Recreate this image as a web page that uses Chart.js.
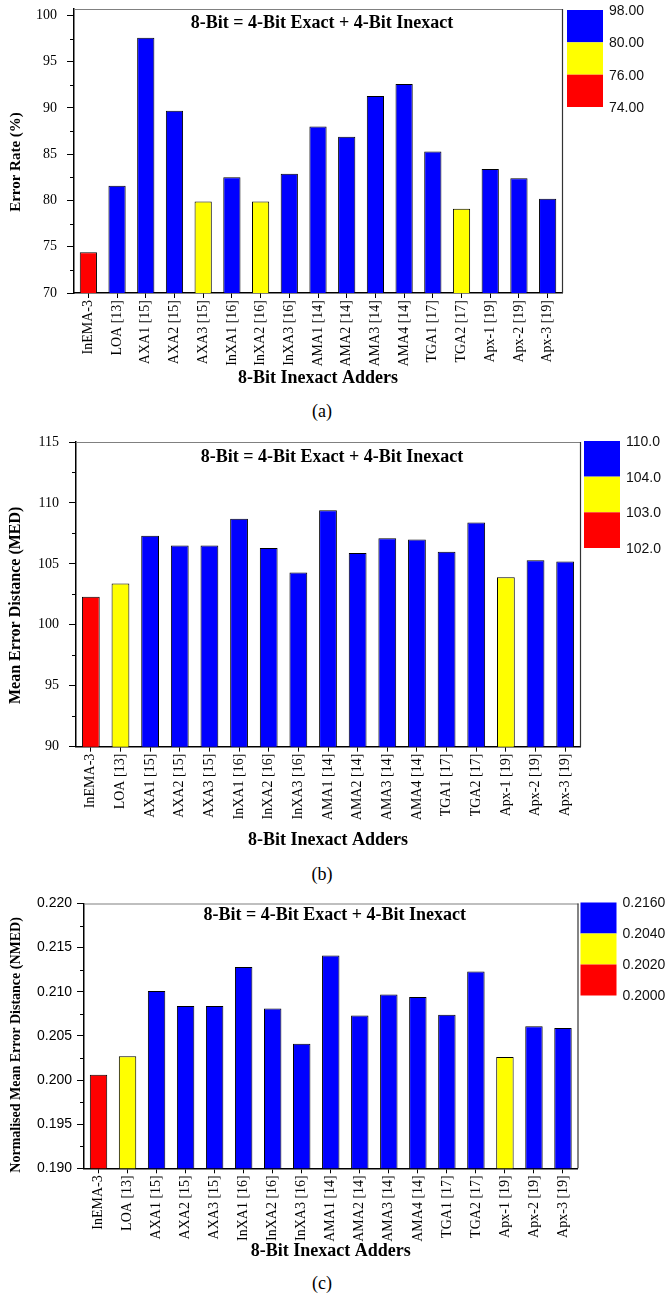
<!DOCTYPE html>
<html><head><meta charset="utf-8">
<script src="https://cdn.jsdelivr.net/npm/chart.js@4.4.1/dist/chart.umd.min.js"></script>
<style>
html,body{margin:0;padding:0;background:#fff;}
body{width:665px;height:1294px;position:relative;overflow:hidden;}
canvas{position:absolute;left:0;}
.cap{position:absolute;left:0;width:644px;text-align:center;font-family:'Liberation Serif','Times New Roman',serif;font-size:18px;line-height:20px;color:#000;}
</style></head><body>
<canvas id="cA" width="665" height="393" style="top:0px"></canvas>
<canvas id="cB" width="665" height="425" style="top:430px"></canvas>
<canvas id="cC" width="665" height="381" style="top:885px"></canvas>
<div class="cap" style="top:401px">(a)</div>
<div class="cap" style="top:864px">(b)</div>
<div class="cap" style="top:1273px">(c)</div>
<script>
const adders = ['InEMA-3','LOA [13]','AXA1 [15]','AXA2 [15]','AXA3 [15]','InXA1 [16]','InXA2 [16]','InXA3 [16]','AMA1 [14]','AMA2 [14]','AMA3 [14]','AMA4 [14]','TGA1 [17]','TGA2 [17]','Apx-1 [19]','Apx-2 [19]','Apx-3 [19]'];
const errorRate = [74.4, 81.6, 97.6, 89.7, 79.9, 82.5, 79.9, 82.9, 88.0, 86.9, 91.3, 92.6, 85.3, 79.1, 83.4, 82.4, 80.2];
const medValues = [102.3, 103.4, 107.3, 106.5, 106.5, 108.7, 106.3, 104.3, 109.4, 105.9, 107.1, 107.0, 106.0, 108.4, 103.9, 105.3, 105.2];
const nmedValues = [0.2006, 0.2027, 0.2101, 0.2084, 0.2084, 0.2128, 0.2081, 0.2041, 0.2141, 0.2073, 0.2097, 0.2094, 0.2074, 0.2123, 0.2026, 0.2061, 0.2059];
const erTicks = [70, 75, 80, 85, 90, 95, 100];
const medTicks = [90, 95, 100, 105, 110, 115];
const nmedTicks = [0.190, 0.195, 0.200, 0.205, 0.210, 0.215, 0.220];
const erLevels = [98, 80, 76, 74];
const medLevels = [110, 104, 103, 102];
const nmedLevels = [0.2160, 0.2040, 0.2020, 0.2000];
const innerTitle = '8-Bit = 4-Bit Exact + 4-Bit Inexact';
const xTitle = '8-Bit Inexact Adders';
const erTitle = 'Error Rate (%)';
const medTitle = 'Mean Error Distance (MED)';
const nmedTitle = 'Normalised Mean Error Distance (NMED)';

const BLUE = '#0000FF', YELLOW = '#FFFF00', RED = '#FF0000';
const SERIF = '"Liberation Serif","Times New Roman",serif';
const SANS = '"Liberation Sans",Arial,sans-serif';

function makeChart(id, values, ticks, levels, yTitle, cfg) {
  const colors = values.map(v => v >= levels[1] ? BLUE : (v >= levels[2] ? YELLOW : RED));
  const H = cfg.height;
  const deco = {
    id: 'deco',
    afterDraw(chart) {
      const ctx = chart.ctx, a = chart.chartArea, ys = chart.scales.y;
      ctx.save();
      // frame
      ctx.lineWidth = 1.2;
      ctx.strokeStyle = '#808080';
      ctx.beginPath(); ctx.moveTo(a.left, a.top + 0.5); ctx.lineTo(a.right + 1, a.top + 0.5); ctx.stroke();
      ctx.strokeStyle = '#333';
      ctx.beginPath(); ctx.moveTo(a.right + 0.5, a.top); ctx.lineTo(a.right + 0.5, a.bottom); ctx.stroke();
      // minor ticks
      ctx.strokeStyle = '#000'; ctx.lineWidth = 1;
      for (let i = 0; i < ticks.length - 1; i++) {
        const v = (ticks[i] + ticks[i + 1]) / 2;
        const py = Math.round(ys.getPixelForValue(v)) + 0.5;
        ctx.beginPath(); ctx.moveTo(a.left - 4, py); ctx.lineTo(a.left, py); ctx.stroke();
      }
      // inner title
      ctx.fillStyle = '#000';
      ctx.font = 'bold 18px ' + SERIF;
      ctx.textAlign = 'center'; ctx.textBaseline = 'middle';
      ctx.fillText(innerTitle, (a.left + a.right) / 2 + 4, a.top + cfg.titleDy);
      // y title
      ctx.save();
      ctx.translate(16, (a.top + a.bottom) / 2 + cfg.yTitleDy);
      ctx.rotate(-Math.PI / 2);
      ctx.font = 'bold ' + cfg.yTitleSize + 'px ' + SERIF;
      ctx.fillText(yTitle, 0, 0);
      ctx.restore();
      // colour legend
      const lx = a.right + cfg.legGap, lw = 36, seg = cfg.legH / 3, ly = a.top + cfg.legDy;
      [BLUE, YELLOW, RED].forEach((c, i) => { ctx.fillStyle = c; ctx.fillRect(lx, ly + i * seg, lw, seg); });
      ctx.fillStyle = '#111';
      ctx.font = '14px ' + SANS;
      ctx.textAlign = 'left';
      levels.forEach((lv, i) => ctx.fillText(lv.toFixed(cfg.legDec), lx + lw + 6, ly + i * seg + 1));
      ctx.restore();
    }
  };
  return new Chart(document.getElementById(id), {
    type: 'bar',
    data: { labels: adders, datasets: [{ data: values, backgroundColor: colors, borderColor: '#000', borderWidth: 1, barPercentage: 0.6, categoryPercentage: 1 }] },
    options: {
      responsive: false, animation: false, devicePixelRatio: 1,
      layout: { padding: { left: 0, top: cfg.top, right: 665 - cfg.right, bottom: 0 } },
      plugins: { legend: { display: false }, tooltip: { enabled: false }, title: { display: false } },
      scales: {
        x: {
          grid: { display: true, drawOnChartArea: false, offset: false, tickLength: 5, color: '#000', lineWidth: 1 },
          border: { display: true, color: '#000', width: 1.5 },
          ticks: { minRotation: 90, maxRotation: 90, autoSkip: false, padding: 2, color: '#000', font: { family: SERIF, size: 14 } },
          title: { display: true, text: xTitle, color: '#000', font: { family: SERIF, size: 18, weight: 'bold' }, padding: { top: 0, bottom: 4 } },
          afterFit(s) { s.height = H - cfg.bottom; s.paddingLeft = 0; s.paddingRight = 0; }
        },
        y: {
          min: ticks[0], max: cfg.max,
          grid: { display: true, drawOnChartArea: false, tickLength: 7, color: '#000', lineWidth: 1 },
          border: { display: true, color: '#000', width: 1.5 },
          afterBuildTicks(s) { s.ticks = ticks.map(v => ({ value: v })); },
          ticks: { padding: cfg.yPad, color: '#000', font: cfg.yFont, callback: (v) => cfg.fmt(v) },
          afterFit(s) { s.width = cfg.left; s.paddingTop = 0; s.paddingBottom = 0; }
        }
      }
    },
    plugins: [deco]
  });
}

makeChart('cA', errorRate, erTicks, erLevels, erTitle, {
  height: 393, top: 9, bottom: 293, left: 74, right: 562, max: 100.7,
  titleDy: 14, yTitleDy: 11, yTitleSize: 15, legGap: 5, legDy: 1, legH: 97, legDec: 2,
  yFont: { family: SERIF, size: 14 }, yPad: 10, fmt: v => String(v)
});
makeChart('cB', medValues, medTicks, medLevels, medTitle, {
  height: 425, top: 12, bottom: 316.7, left: 76, right: 580, max: 115,
  titleDy: 15, yTitleDy: 11, yTitleSize: 16, legGap: 4, legDy: -1, legH: 107, legDec: 1,
  yFont: { family: SERIF, size: 14 }, yPad: 10, fmt: v => String(v)
});
makeChart('cC', nmedValues, nmedTicks, nmedLevels, nmedTitle, {
  height: 381, top: 18.5, bottom: 283.3, left: 84, right: 577.5, max: 0.220,
  titleDy: 12, yTitleDy: 9, yTitleSize: 14, legGap: 3, legDy: -1, legH: 93, legDec: 4,
  yFont: { family: SANS, size: 14 }, yPad: 5, fmt: v => v.toFixed(3)
});
</script>
</body></html>
